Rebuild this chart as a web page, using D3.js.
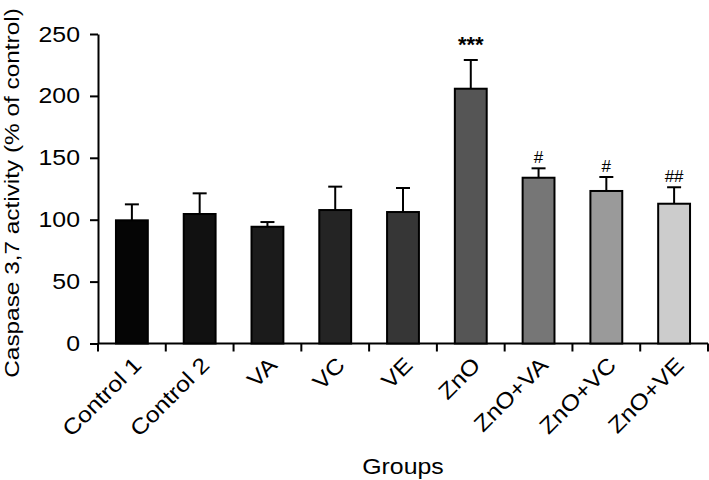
<!DOCTYPE html>
<html><head><meta charset="utf-8">
<script src="https://cdn.jsdelivr.net/npm/d3@7"></script>
<style>body{margin:0;background:#fff}svg{display:block}text{font-family:"Liberation Sans",Arial,sans-serif;fill:#000}</style>
</head><body><svg id="c" width="709" height="480"></svg>
<script>
const categories = ["Control 1","Control 2","VA","VC","VE","ZnO","ZnO+VA","ZnO+VC","ZnO+VE"];
const means = [99.5,104.6,94.3,107.8,106.2,205.8,133.9,123.2,112.9];
const errors = [12.9,16.7,3.8,18.9,19.4,23.2,7.6,11.3,13.3];
const marks = ["","","","","","***","#","#","##"];
const fills = ["#050505","#111111","#1b1b1b","#242424","#363636","#555555","#767676","#9a9a9a","#cccccc"];
const yTicks = [0,50,100,150,200,250];

(function(){
const svg = d3.select("#c");
const mLeft = 98, mRight = 708, mTop = 34, mBottom = 343.5;
const sx = 1.13;
const x = d3.scaleBand().domain(categories).range([mLeft, mRight]).paddingInner(0.53).paddingOuter(0.265);
const y = d3.scaleLinear().domain([0,250]).range([mBottom, mTop]);

const ya = svg.append("g").attr("transform",`translate(${mLeft},0)`)
  .call(d3.axisLeft(y).tickValues(yTicks).tickSize(8).tickPadding(6).tickSizeOuter(0));
ya.selectAll("path,line").attr("stroke","#000").attr("stroke-width",2);
ya.selectAll("text").attr("font-size",22).attr("x",0).attr("transform",`translate(-18,0) scale(${sx},1)`)
  .style("font-family","Liberation Sans, Arial, sans-serif");

const xb = svg.append("g");
xb.append("line").attr("x1",mLeft).attr("x2",mRight).attr("y1",mBottom).attr("y2",mBottom).attr("stroke","#000").attr("stroke-width",2);
const step = x.step();
const bounds = d3.range(categories.length+1).map(i => mLeft + i*step);
xb.selectAll("line.t").data(bounds).join("line").attr("class","t")
  .attr("x1",d=>d).attr("x2",d=>d).attr("y1",mBottom).attr("y2",mBottom+8).attr("stroke","#000").attr("stroke-width",2);

const g = svg.append("g");
categories.forEach((c,i)=>{
  const cx = x(c) + x.bandwidth()/2;
  g.append("line").attr("x1",cx).attr("x2",cx).attr("y1",y(means[i])).attr("y2",y(means[i]+errors[i])).attr("stroke","#000").attr("stroke-width",2);
  g.append("line").attr("x1",cx-7).attr("x2",cx+7).attr("y1",y(means[i]+errors[i])).attr("y2",y(means[i]+errors[i])).attr("stroke","#000").attr("stroke-width",2);
  g.append("rect").attr("x",x(c)).attr("y",y(means[i])).attr("width",x.bandwidth()).attr("height",mBottom-y(means[i]))
    .attr("fill",fills[i]).attr("stroke","#000").attr("stroke-width",2);
  if(marks[i]){
    const star = marks[i]==="***";
    g.append("text").attr("x",cx).attr("y",y(means[i]+errors[i])-(star?8:5)).attr("text-anchor","middle")
      .attr("font-size", star?22:17).attr("font-weight", star?"bold":"normal").text(marks[i]);
  }
  svg.append("text").attr("transform",`translate(${cx+11},${mBottom+23}) rotate(-45) scale(${sx},1)`)
    .attr("text-anchor","end").attr("font-size",22).text(c);
});

svg.append("text").attr("transform",`translate(403,474) scale(${sx},1)`).attr("text-anchor","middle").attr("font-size",22).text("Groups");
svg.append("text").attr("transform",`translate(19,193) rotate(-90) scale(1.16,1)`).attr("text-anchor","middle").attr("font-size",21)
  .text("Caspase 3,7 activity (% of control)");
})();
</script></body></html>
